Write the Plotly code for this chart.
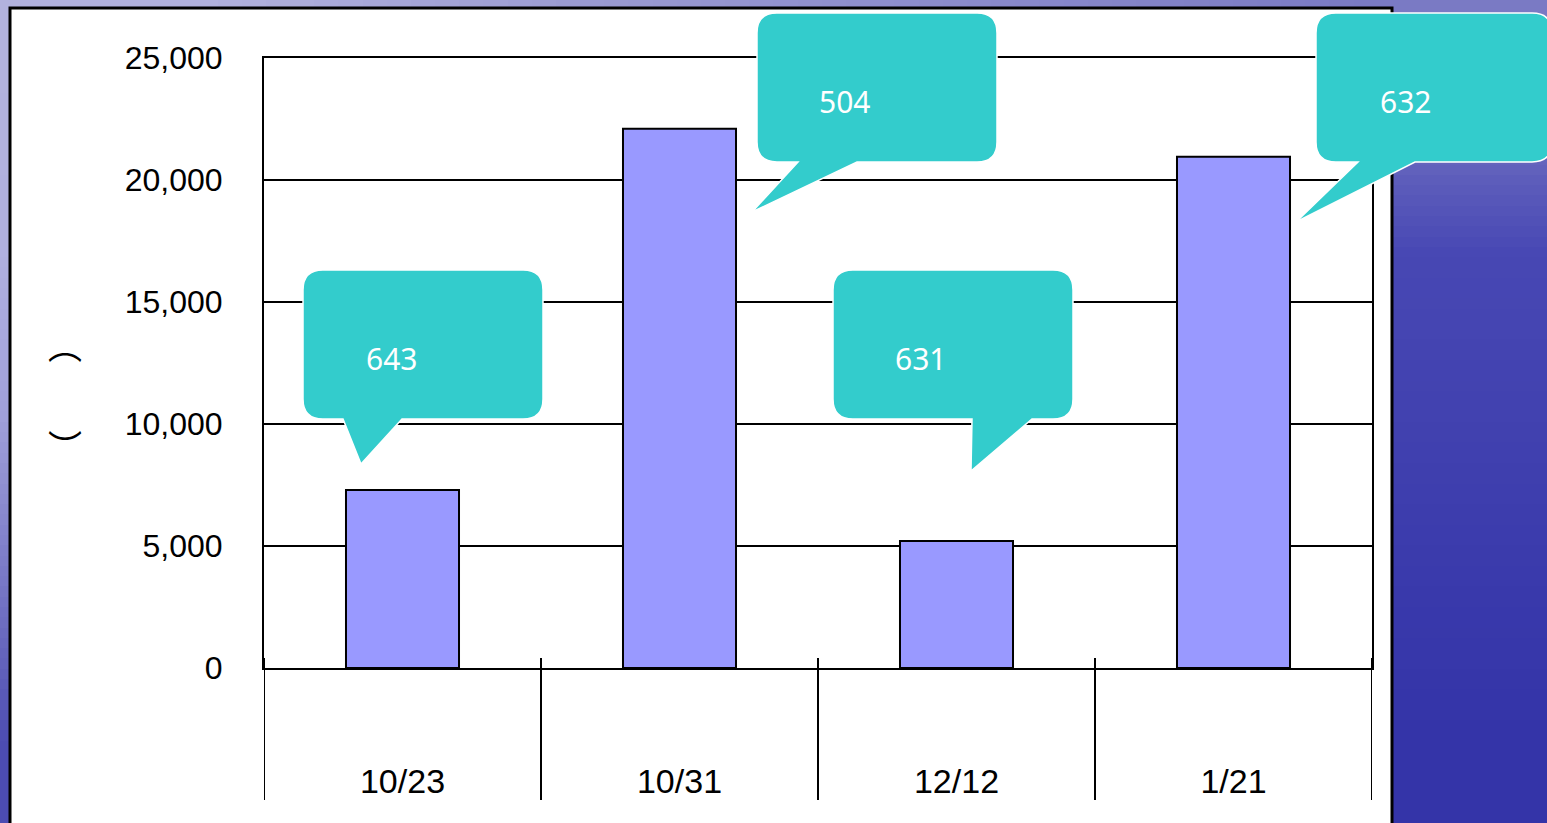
import base64
import struct
import zlib

import plotly.graph_objects as go

# ---------------- data ----------------
categories = ["10/23", "10/31", "12/12", "1/21"]
values = [7300, 22100, 5200, 20950]
callout_labels = ["643", "504", "631", "632"]
y_ticks = [0, 5000, 10000, 15000, 20000, 25000]

# ---------------- layout helpers ----------------
W, H = 1547, 823


def px(x, y):
    return x / W, 1 - y / H


def make_png(colors_grid):
    h = len(colors_grid)
    w = len(colors_grid[0])
    raw = b""
    for row in colors_grid:
        raw += b"\x00" + bytes([c for hexc in row for c in bytes.fromhex(hexc.lstrip("#"))])

    def chunk(tag, data):
        c = struct.pack(">I", len(data)) + tag + data
        return c + struct.pack(">I", zlib.crc32(tag + data) & 0xFFFFFFFF)

    png = b"\x89PNG\r\n\x1a\n"
    png += chunk(b"IHDR", struct.pack(">IIBBBBB", w, h, 8, 2, 0, 0, 0))
    png += chunk(b"IDAT", zlib.compress(raw))
    png += chunk(b"IEND", b"")
    return "data:image/png;base64," + base64.b64encode(png).decode()


bg_grid = [
    ["#b2b2de", "#9a9ad2", "#8a8acc", "#7a7ac4"],
    ["#b0b0e0", "#8080c8", "#6060bc", "#4848b4"],
    ["#a0a0da", "#6a6ac0", "#4a4ab4", "#4242b0"],
    ["#7878c6", "#5050b8", "#3e3eae", "#3a3aac"],
    ["#4c4cb2", "#3c3cac", "#3434a8", "#3434a8"],
]

fig = go.Figure()

fig.add_trace(
    go.Bar(
        x=categories,
        y=values,
        marker=dict(color="#9999FF", line=dict(color="black", width=2)),
        hoverinfo="x+y",
    )
)

shapes = []
# white panel
x0, y0 = px(10, 8)
x1, y1 = px(1392, 835)
shapes.append(
    dict(type="rect", xref="paper", yref="paper", x0=x0, y0=y0, x1=x1, y1=y1,
         fillcolor="white", line=dict(color="black", width=3), layer="below")
)

# category separators below the axis
_, sy0 = px(0, 658)
_, sy1 = px(0, 800)
for i in range(len(categories) + 1):
    shapes.append(
        dict(type="line", xref="x", yref="paper", x0=i - 0.5, x1=i - 0.5,
             y0=sy0, y1=sy1, line=dict(color="black", width=2), layer="above")
    )

# callouts: (box x0, y0, x1, y1, tail left, tail right, tip x, tip y, text x, text y)
callout_geom = [
    (303, 270, 543, 419, 343, 402, 361, 464, 391, 358),
    (757, 13, 997, 162, 798, 857, 752, 212, 845, 101),
    (833, 270, 1073, 419, 972, 1032, 971, 471, 920, 358),
    (1316, 13, 1552, 162, 1358, 1415, 1296, 222, 1405, 101),
]
r = 20


def P(x, y):
    a, b = px(x, y)
    return f"{a:.6f},{b:.6f}"


annotations = []
for lab, (bx0, by0, bx1, by1, tl, tr, tx, ty, cx, cy) in zip(callout_labels, callout_geom):
    path = (
        f"M{P(bx0 + r, by0)} L{P(bx1 - r, by0)} Q{P(bx1, by0)} {P(bx1, by0 + r)} "
        f"L{P(bx1, by1 - r)} Q{P(bx1, by1)} {P(bx1 - r, by1)} "
        f"L{P(tr, by1)} L{P(tx, ty)} L{P(tl, by1)} "
        f"L{P(bx0 + r, by1)} Q{P(bx0, by1)} {P(bx0, by1 - r)} "
        f"L{P(bx0, by0 + r)} Q{P(bx0, by0)} {P(bx0 + r, by0)} Z"
    )
    shapes.append(
        dict(type="path", xref="paper", yref="paper", path=path,
             fillcolor="#33CCCC", line=dict(color="white", width=1.5), layer="above")
    )
    ax, ay = px(cx, cy)
    annotations.append(
        dict(x=ax, y=ay, xref="paper", yref="paper", text=lab, showarrow=False,
             font=dict(family="Noto Sans", size=30, color="white"),
             xanchor="center", yanchor="middle")
    )

# y-axis title remnants (vertical parentheses)
for ch, yy in [("\ufe35", 344), ("\ufe36", 445)]:
    ax, ay = px(65, yy)
    annotations.append(
        dict(x=ax, y=ay, xref="paper", yref="paper", text=ch, showarrow=False,
             font=dict(family="Noto Sans CJK JP", size=34, color="black"),
             xanchor="center", yanchor="middle")
    )

dx0, dy_top = px(264, 58)
dx1, dy_bot = px(1372, 668)

fig.update_layout(
    width=W,
    height=H,
    margin=dict(l=0, r=0, t=0, b=0),
    paper_bgcolor="#4040b0",
    plot_bgcolor="rgba(0,0,0,0)",
    showlegend=False,
    bargap=0.592,
    shapes=shapes,
    annotations=annotations,
    images=[
        dict(source=make_png(bg_grid), xref="paper", yref="paper", x=0, y=1,
             sizex=1, sizey=1, sizing="stretch", layer="below", xanchor="left",
             yanchor="top")
    ],
    xaxis=dict(
        domain=[dx0, dx1],
        range=[-0.5, len(categories) - 0.5],
        showline=True, mirror=True, linecolor="black", linewidth=2,
        showgrid=False, ticks="",
        tickfont=dict(family="Liberation Sans", size=34, color="black"),
        ticklabelstandoff=82,
        automargin=False,
    ),
    yaxis=dict(
        domain=[dy_bot, dy_top],
        range=[0, 25000],
        tickvals=y_ticks,
        tickformat=",",
        showline=True, mirror=True, linecolor="black", linewidth=2,
        showgrid=True, gridcolor="black", gridwidth=2,
        zeroline=False, ticks="",
        tickfont=dict(family="Liberation Sans", size=32, color="black"),
        ticklabelstandoff=33,
        automargin=False,
    ),
)

fig.write_html(
    "out.html",
    config={"displayModeBar": False},
    post_script="document.body.style.margin='0';document.body.style.overflow='hidden';",
)
